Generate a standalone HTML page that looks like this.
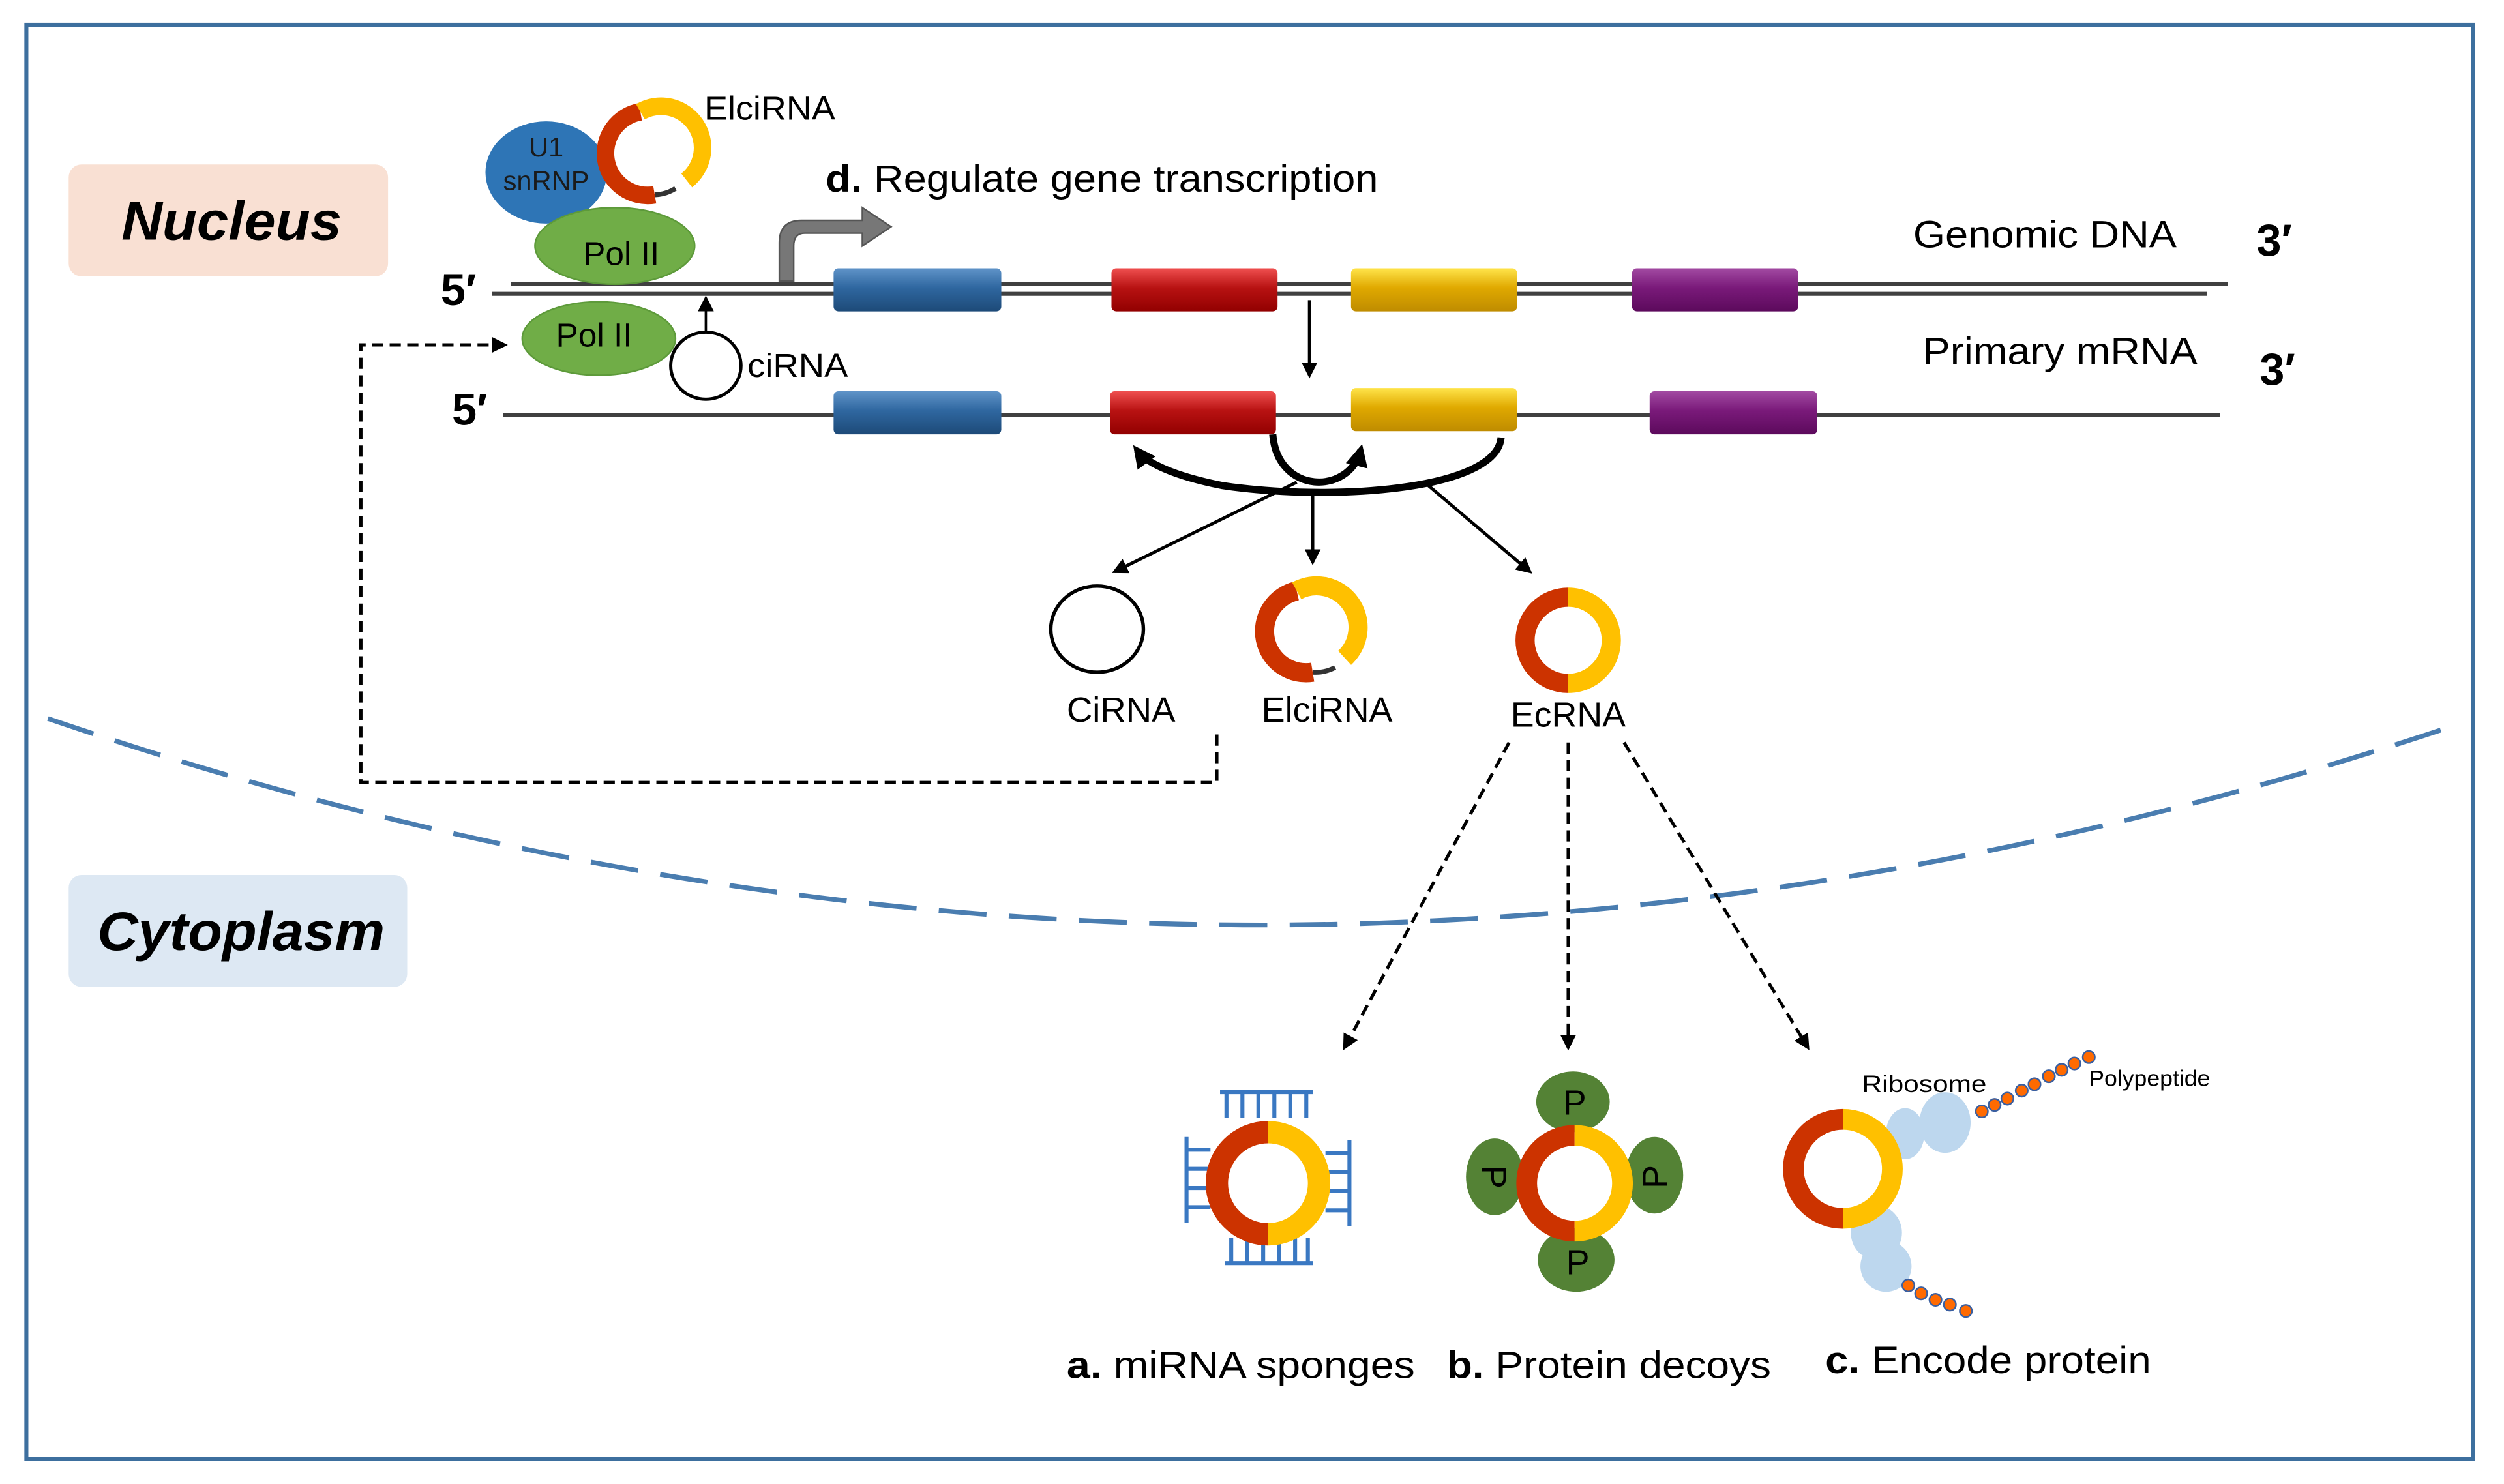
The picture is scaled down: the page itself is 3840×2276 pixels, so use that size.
<!DOCTYPE html>
<html><head><meta charset="utf-8"><style>html,body{margin:0;padding:0;background:#fff}svg{display:block}text{font-family:"Liberation Sans",sans-serif}</style></head><body>
<svg width="3840" height="2276" viewBox="0 0 1568 929.35" xmlns="http://www.w3.org/2000/svg">
<defs>
<linearGradient id="gb" x1="0" y1="0" x2="0" y2="1"><stop offset="0" stop-color="#5f93c8"/><stop offset="0.45" stop-color="#2f67a0"/><stop offset="1" stop-color="#1d4a78"/></linearGradient>
<linearGradient id="gr" x1="0" y1="0" x2="0" y2="1"><stop offset="0" stop-color="#ef4f4f"/><stop offset="0.45" stop-color="#b81212"/><stop offset="1" stop-color="#920000"/></linearGradient>
<linearGradient id="gy" x1="0" y1="0" x2="0" y2="1"><stop offset="0" stop-color="#ffe44a"/><stop offset="0.45" stop-color="#e0a900"/><stop offset="1" stop-color="#bf8c00"/></linearGradient>
<linearGradient id="gp" x1="0" y1="0" x2="0" y2="1"><stop offset="0" stop-color="#a24aa2"/><stop offset="0.45" stop-color="#7a1a7a"/><stop offset="1" stop-color="#5c0a5c"/></linearGradient>
<marker id="ah" markerWidth="10" markerHeight="10" refX="8" refY="5" orient="auto" markerUnits="userSpaceOnUse"><path d="M0,0 L10,5 L0,10 z" fill="#000"/></marker>
<marker id="ahb" markerWidth="14" markerHeight="14" refX="10" refY="7" orient="auto" markerUnits="userSpaceOnUse"><path d="M0,0 L14,7 L0,14 z" fill="#000"/></marker>
</defs>
<rect x="16.5" y="15.5" width="1532" height="898" fill="none" stroke="#3d6f9e" stroke-width="2.5"/>
<rect x="43" y="103" width="200" height="70" rx="8" fill="#f9e0d3"/>
<text x="145" y="150" font-size="34" font-style="italic" font-weight="bold" text-anchor="middle" textLength="138" lengthAdjust="spacingAndGlyphs">Nucleus</text>
<rect x="43" y="548" width="212" height="70" rx="8" fill="#dde8f3"/>
<text x="151" y="595" font-size="34" font-style="italic" font-weight="bold" text-anchor="middle" textLength="180" lengthAdjust="spacingAndGlyphs">Cytoplasm</text>
<path d="M30 450 Q 782 706 1535 455" fill="none" stroke="#4a7db0" stroke-width="3" stroke-dasharray="30 14"/>

<line x1="320" y1="178" x2="1395" y2="178" stroke="#404040" stroke-width="2.5"/>
<line x1="308" y1="184" x2="1382" y2="184" stroke="#404040" stroke-width="2.5"/>
<text x="1198" y="155" font-size="24" textLength="165" lengthAdjust="spacingAndGlyphs">Genomic DNA</text>
<text x="1413" y="160" font-size="28" font-weight="bold">3′</text>
<text x="276" y="191" font-size="28" font-weight="bold">5′</text>
<rect x="522" y="168" width="105" height="27" rx="3" fill="url(#gb)"/>
<rect x="696" y="168" width="104" height="27" rx="3" fill="url(#gr)"/>
<rect x="846" y="168" width="104" height="27" rx="3" fill="url(#gy)"/>
<rect x="1022" y="168" width="104" height="27" rx="3" fill="url(#gp)"/>
<path d="M488 176 V152 Q488 138 502 138 H540 V130 L558 142 L540 154 V146 H504 Q497 146 497 154 V176 z" fill="#777" stroke="#555" stroke-width="1"/>
<text x="517" y="120" font-size="24" textLength="346" lengthAdjust="spacingAndGlyphs"><tspan font-weight="bold">d.</tspan> Regulate gene transcription</text>
<line x1="820" y1="188" x2="820" y2="235" stroke="#000" stroke-width="2" marker-end="url(#ah)"/>

<line x1="315" y1="260" x2="1390" y2="260" stroke="#404040" stroke-width="2.5"/>
<text x="1204" y="228" font-size="24" textLength="172" lengthAdjust="spacingAndGlyphs">Primary mRNA</text>
<text x="1415" y="241" font-size="28" font-weight="bold">3′</text>
<text x="283" y="266" font-size="28" font-weight="bold">5′</text>
<rect x="522" y="245" width="105" height="27" rx="3" fill="url(#gb)"/>
<rect x="695" y="245" width="104" height="27" rx="3" fill="url(#gr)"/>
<rect x="846" y="243" width="104" height="27" rx="3" fill="url(#gy)"/>
<rect x="1033" y="245" width="105" height="27" rx="3" fill="url(#gp)"/>

<path d="M940 274 C937 308 830 314 765 304 C735 298 718 290 712 282" fill="none" stroke="#000" stroke-width="4.5" marker-end="url(#ahb)"/>
<path d="M797 272 C800 310 845 310 852 282" fill="none" stroke="#000" stroke-width="4.5" marker-end="url(#ahb)"/>
<line x1="812" y1="302" x2="698" y2="358" stroke="#000" stroke-width="2" marker-end="url(#ah)"/>
<line x1="822" y1="308" x2="822" y2="352" stroke="#000" stroke-width="2" marker-end="url(#ah)"/>
<line x1="892" y1="302" x2="958" y2="358" stroke="#000" stroke-width="2" marker-end="url(#ah)"/>

<ellipse cx="687" cy="394" rx="29" ry="27" fill="none" stroke="#000" stroke-width="2.2"/>
<text x="668" y="452" font-size="22" textLength="68" lengthAdjust="spacingAndGlyphs">CiRNA</text>
<path d="M836 418 A26 26 0 0 1 822 421" fill="none" stroke="#333" stroke-width="3"/>
<path d="M822 421 A26 26 0 0 1 812 370" fill="none" stroke="#cc3300" stroke-width="12"/>
<path d="M812 370 A26 26 0 0 1 842 412" fill="none" stroke="#ffc000" stroke-width="12"/>
<text x="790" y="452" font-size="22" textLength="82" lengthAdjust="spacingAndGlyphs">ElciRNA</text>
<path d="M982 428 A27 27 0 0 1 982 374" fill="none" stroke="#cc3300" stroke-width="12"/>
<path d="M982 374 A27 27 0 0 1 982 428" fill="none" stroke="#ffc000" stroke-width="12"/>
<text x="946" y="455" font-size="22" textLength="72" lengthAdjust="spacingAndGlyphs">EcRNA</text>

<ellipse cx="342" cy="108" rx="38" ry="32" fill="#2e75b6"/>
<text x="342" y="98" font-size="17" text-anchor="middle" fill="#1a1a1a">U1</text>
<text x="342" y="119" font-size="17" text-anchor="middle" fill="#1a1a1a">snRNP</text>
<ellipse cx="385" cy="154" rx="50" ry="24" fill="#70ad47" stroke="#5d9a3a"/>
<text x="389" y="166" font-size="21" text-anchor="middle">Pol II</text>
<path d="M423 118 A26 26 0 0 1 410 122" fill="none" stroke="#333" stroke-width="3"/>
<path d="M410 122 A26 26 0 0 1 401 70" fill="none" stroke="#cc3300" stroke-width="11"/>
<path d="M401 70 A26 26 0 0 1 430 113" fill="none" stroke="#ffc000" stroke-width="11"/>
<text x="441" y="75" font-size="21" textLength="82" lengthAdjust="spacingAndGlyphs">ElciRNA</text>
<ellipse cx="375" cy="212" rx="48" ry="23" fill="#70ad47" stroke="#5d9a3a"/>
<text x="372" y="217" font-size="21" text-anchor="middle">Pol II</text>
<ellipse cx="442" cy="229" rx="22" ry="21" fill="#fff" stroke="#000" stroke-width="2"/>
<line x1="442" y1="208" x2="442" y2="187" stroke="#000" stroke-width="1.5" marker-end="url(#ah)"/>
<text x="468" y="236" font-size="21" textLength="63" lengthAdjust="spacingAndGlyphs">ciRNA</text>

<path d="M762 460 V490 H226 V216 H316" fill="none" stroke="#000" stroke-width="2" stroke-dasharray="7 4" marker-end="url(#ah)"/>

<line x1="945" y1="465" x2="842" y2="656" stroke="#000" stroke-width="2" stroke-dasharray="7 4" marker-end="url(#ah)"/>
<line x1="982" y1="465" x2="982" y2="656" stroke="#000" stroke-width="2" stroke-dasharray="7 4" marker-end="url(#ah)"/>
<line x1="1017" y1="465" x2="1132" y2="656" stroke="#000" stroke-width="2" stroke-dasharray="7 4" marker-end="url(#ah)"/>

<g stroke="#3a78c2" stroke-width="2.5" fill="none">
<path d="M764 684 H822 M768 684 V700 M778 684 V700 M788 684 V700 M798 684 V700 M808 684 V700 M818 684 V700"/>
<path d="M767 791 H822 M771 775 V791 M781 775 V791 M791 775 V791 M801 775 V791 M811 775 V791 M819 775 V791"/>
<path d="M743 712 V766 M743 720 H758 M743 732 H758 M743 744 H758 M743 756 H758"/>
<path d="M845 714 V768 M845 722 H830 M845 734 H830 M845 746 H830 M845 758 H830"/>
</g>
<path d="M794 773 A32 32 0 0 1 794 709" fill="none" stroke="#cc3300" stroke-width="14"/>
<path d="M794 709 A32 32 0 0 1 794 773" fill="none" stroke="#ffc000" stroke-width="14"/>

<ellipse cx="985" cy="690" rx="23" ry="19" fill="#548235"/>
<ellipse cx="987" cy="789" rx="24" ry="20" fill="#548235"/>
<ellipse cx="936" cy="737" rx="18" ry="24" fill="#548235"/>
<ellipse cx="1036" cy="736" rx="18" ry="24" fill="#548235"/>
<path d="M986 771 A30 30 0 0 1 986 711" fill="none" stroke="#cc3300" stroke-width="13"/>
<path d="M986 711 A30 30 0 0 1 986 771" fill="none" stroke="#ffc000" stroke-width="13"/>
<text x="986" y="698" font-size="22" text-anchor="middle">P</text>
<text x="988" y="798" font-size="22" text-anchor="middle">P</text>
<text font-size="22" text-anchor="middle" transform="translate(928 737) rotate(90)">P</text>
<text font-size="22" text-anchor="middle" transform="translate(1044 737) rotate(-90)">P</text>

<ellipse cx="1193" cy="710" rx="12" ry="16" fill="#bdd7ee"/>
<ellipse cx="1218" cy="703" rx="16" ry="19" fill="#bdd7ee"/>
<ellipse cx="1175" cy="772" rx="16" ry="17" fill="#bdd7ee"/>
<ellipse cx="1181" cy="793" rx="16" ry="16" fill="#bdd7ee"/>
<path d="M1154 763 A31 31 0 0 1 1154 701" fill="none" stroke="#cc3300" stroke-width="13"/>
<path d="M1154 701 A31 31 0 0 1 1154 763" fill="none" stroke="#ffc000" stroke-width="13"/>
<g fill="#ff6a00" stroke="#3a5fa0" stroke-width="1">
<circle cx="1241" cy="696" r="3.8"/><circle cx="1249" cy="692" r="3.8"/><circle cx="1257" cy="688" r="3.8"/><circle cx="1266" cy="683" r="3.8"/><circle cx="1274" cy="679" r="3.8"/><circle cx="1283" cy="674" r="3.8"/><circle cx="1291" cy="670" r="3.8"/><circle cx="1299" cy="666" r="3.8"/><circle cx="1308" cy="662" r="3.8"/>
<circle cx="1195" cy="805" r="3.8"/><circle cx="1203" cy="810" r="3.8"/><circle cx="1212" cy="814" r="3.8"/><circle cx="1221" cy="817" r="3.8"/><circle cx="1231" cy="821" r="3.8"/>
</g>
<text x="1166" y="684" font-size="15" textLength="78" lengthAdjust="spacingAndGlyphs">Ribosome</text>
<text x="1308" y="680" font-size="14" textLength="76" lengthAdjust="spacingAndGlyphs">Polypeptide</text>

<text x="668" y="863" font-size="24" textLength="218" lengthAdjust="spacingAndGlyphs"><tspan font-weight="bold">a.</tspan> miRNA sponges</text>
<text x="906" y="863" font-size="24" textLength="203" lengthAdjust="spacingAndGlyphs"><tspan font-weight="bold">b.</tspan> Protein decoys</text>
<text x="1143" y="860" font-size="24" textLength="204" lengthAdjust="spacingAndGlyphs"><tspan font-weight="bold">c.</tspan> Encode protein</text>
</svg>
</body></html>
